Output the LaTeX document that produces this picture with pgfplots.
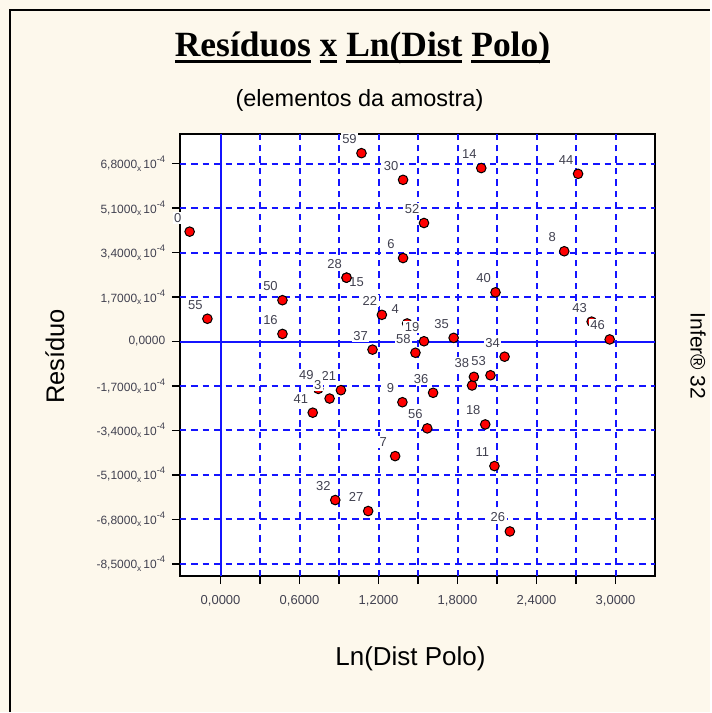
\documentclass[border=0pt]{standalone}
\usepackage{pgfplots}
\pgfplotsset{compat=1.18}
\usepackage{fontspec}
\setmainfont{Liberation Sans}
\newfontfamily\serifb{Liberation Serif}
\definecolor{bgc}{RGB}{253,248,236}
\definecolor{lblc}{RGB}{65,65,80}
\definecolor{gridb}{RGB}{20,20,255}
\newsavebox\ulbox
\newcommand\ul[1]{\sbox\ulbox{#1}\rlap{\rule[-6pt]{\wd\ulbox}{3pt}}\usebox\ulbox}
\newcommand\ylab[1]{#1\raisebox{-2.5pt}{\fontsize{8.5}{8.5}\selectfont x}\,10\raisebox{6pt}{\fontsize{9.5}{9.5}\selectfont -4}}
\tikzset{lbl/.style={font=\fontsize{13}{14}\selectfont, text=lblc, fill=white, inner sep=1.5pt},
  gridl/.style={gridb, line width=2pt, dash pattern=on 6.5pt off 5pt},
  zerol/.style={gridb, line width=2pt}}
\pgfplotsset{mymark/.style={only marks, mark=*, mark size=4.8pt, mark options={fill=red, draw=black, line width=1pt}}}
\begin{document}
\begin{tikzpicture}
\fill[bgc] (0pt,0pt) rectangle (711pt,713pt);
\draw[black, line width=2pt] (10pt,0pt) -- (10pt,703pt) -- (711pt,703pt);
\node[font=\serifb\bfseries\fontsize{35.5}{40}\selectfont, anchor=base] at (363pt,656pt) {\ul{Resíduos} \ul{x} \ul{Ln(Dist} \ul{Polo)}};
\node[font=\fontsize{23.5}{27}\selectfont] at (360pt,612pt) {(elementos da amostra)};
\node[font=\fontsize{26}{30}\selectfont] at (411pt,53pt) {Ln(Dist Polo)};
\node[font=\fontsize{25.5}{30}\selectfont, rotate=90] at (55pt,356pt) {Resíduo};
\node[font=\fontsize{21}{24}\selectfont, rotate=-90, anchor=west, inner sep=0pt] at (699pt,400pt) {Infer® 32};
\begin{axis}[at={(180pt,136pt)}, anchor=south west, scale only axis,
  width=476pt, height=443pt,
  xmin=-0.31, xmax=3.30, ymin=-8.97, ymax=7.94,
  axis background/.style={fill=white},
  axis line style={black, line width=1.7pt},
  xtick={0,0.3,0.6,0.9,1.2,1.5,1.8,2.1,2.4,2.7,3.0},
  xticklabels={{0,0000},,{0,6000},,{1,2000},,{1,8000},,{2,4000},,{3,0000}},
  ytick={-8.5,-6.8,-5.1,-3.4,-1.7,0,1.7,3.4,5.1,6.8},
  yticklabels={{\ylab{-8,5000}},{\ylab{-6,8000}},{\ylab{-5,1000}},{\ylab{-3,4000}},{\ylab{-1,7000}},{0,0000},{\ylab{1,7000}},{\ylab{3,4000}},{\ylab{5,1000}},{\ylab{6,8000}}},
  tick pos=left,
  tick align=outside, major tick length=8pt,
  major tick style={black, line width=1.3pt},
  xticklabel style={font=\fontsize{13}{15}\selectfont, text=lblc, yshift=-8pt},
  yticklabel style={font=\fontsize{12}{14}\selectfont, text=lblc, xshift=-3pt},
]
\pgfplotsinvokeforeach{0.3,0.6,0.9,1.2,1.5,1.8,2.1,2.4,2.7,3.0}{\draw[gridl] (axis cs:#1,-8.97) -- (axis cs:#1,7.94);}
\pgfplotsinvokeforeach{-8.5,-6.8,-5.1,-3.4,-1.7,1.7,3.4,5.1,6.8}{\draw[gridl] (axis cs:-0.31,#1) -- (axis cs:3.30,#1);}
\draw[zerol] (axis cs:0,-8.97) -- (axis cs:0,7.94);
\draw[zerol] (axis cs:-0.31,0) -- (axis cs:3.30,0);
\addplot[mymark] coordinates {(1.91,-1.68)};
\addplot[mymark, nodes near coords, point meta=explicit symbolic,
  every node near coord/.style={lbl, anchor=center, xshift=10pt, yshift=-4pt}]
  table[meta=lab] {
x y lab
0.957 2.44 15
};
\addplot[mymark, nodes near coords, point meta=explicit symbolic,
  every node near coord/.style={lbl, anchor=center, xshift=-12pt, yshift=14pt}]
  table[meta=lab] {
x y lab
-0.235 4.20 0
-0.10 0.87 55
0.47 1.58 50
0.47 0.29 16
1.07 7.20 59
1.386 6.18 30
1.545 4.53 52
1.386 3.19 6
0.957 2.44 28
1.225 1.02 22
1.417 0.69 4
1.545 0.01 19
1.154 -0.31 37
1.48 -0.43 58
1.77 0.14 35
2.157 -0.58 34
2.05 -1.29 53
1.924 -1.35 38
1.614 -1.96 36
1.381 -2.32 9
1.57 -3.32 56
2.01 -3.17 18
2.08 -4.76 11
2.197 -7.26 26
1.326 -4.38 7
0.871 -6.06 32
1.121 -6.48 27
0.742 -1.81 49
0.914 -1.86 21
0.828 -2.18 3
0.70 -2.72 41
1.98 6.63 14
2.715 6.41 44
2.61 3.45 8
2.088 1.88 40
2.818 0.76 43
2.955 0.08 46
};
\end{axis}
\end{tikzpicture}
\end{document}
